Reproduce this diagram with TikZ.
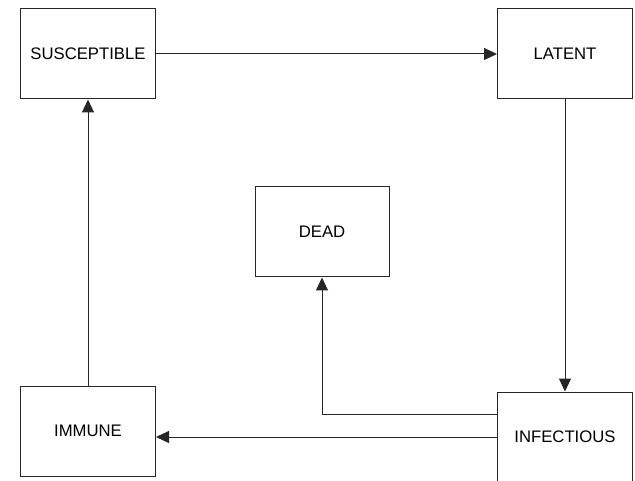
\documentclass[tikz,border=0pt]{standalone}
\usepackage{fontspec}
\setmainfont{Liberation Sans}
\usetikzlibrary{arrows.meta}
\begin{document}
\begin{tikzpicture}[x=1pt,y=-1pt,
  statebox/.style={draw=black!85, line width=1pt, rectangle, minimum width=135pt, minimum height=90pt, inner sep=0pt, font=\fontsize{16.7}{20}\selectfont},
  link/.style={draw=black!85, line width=1pt, -{Triangle[length=13pt,width=12pt]}}]
\useasboundingbox (0,0) rectangle (635,481);
\clip (0,0) rectangle (635,481);
\node[statebox] (S) at (88,54) {SUSCEPTIBLE};
\node[statebox] (L) at (565,54) {LATENT};
\node[statebox, minimum width=134pt] (D) at (322,232) {DEAD};
\node[statebox] (Im) at (88,431) {IMMUNE};
\node[statebox] (In) at (565,437) {INFECTIOUS};
\draw[link] (S) -- (L);
\draw[link] (L) -- (In);
\draw[link] (In.west) ++(0,-23) -| (D.south);
\draw[link] (In.west) -- (In.west -| Im.east);
\draw[link] (Im) -- (S);
\end{tikzpicture}
\end{document}
